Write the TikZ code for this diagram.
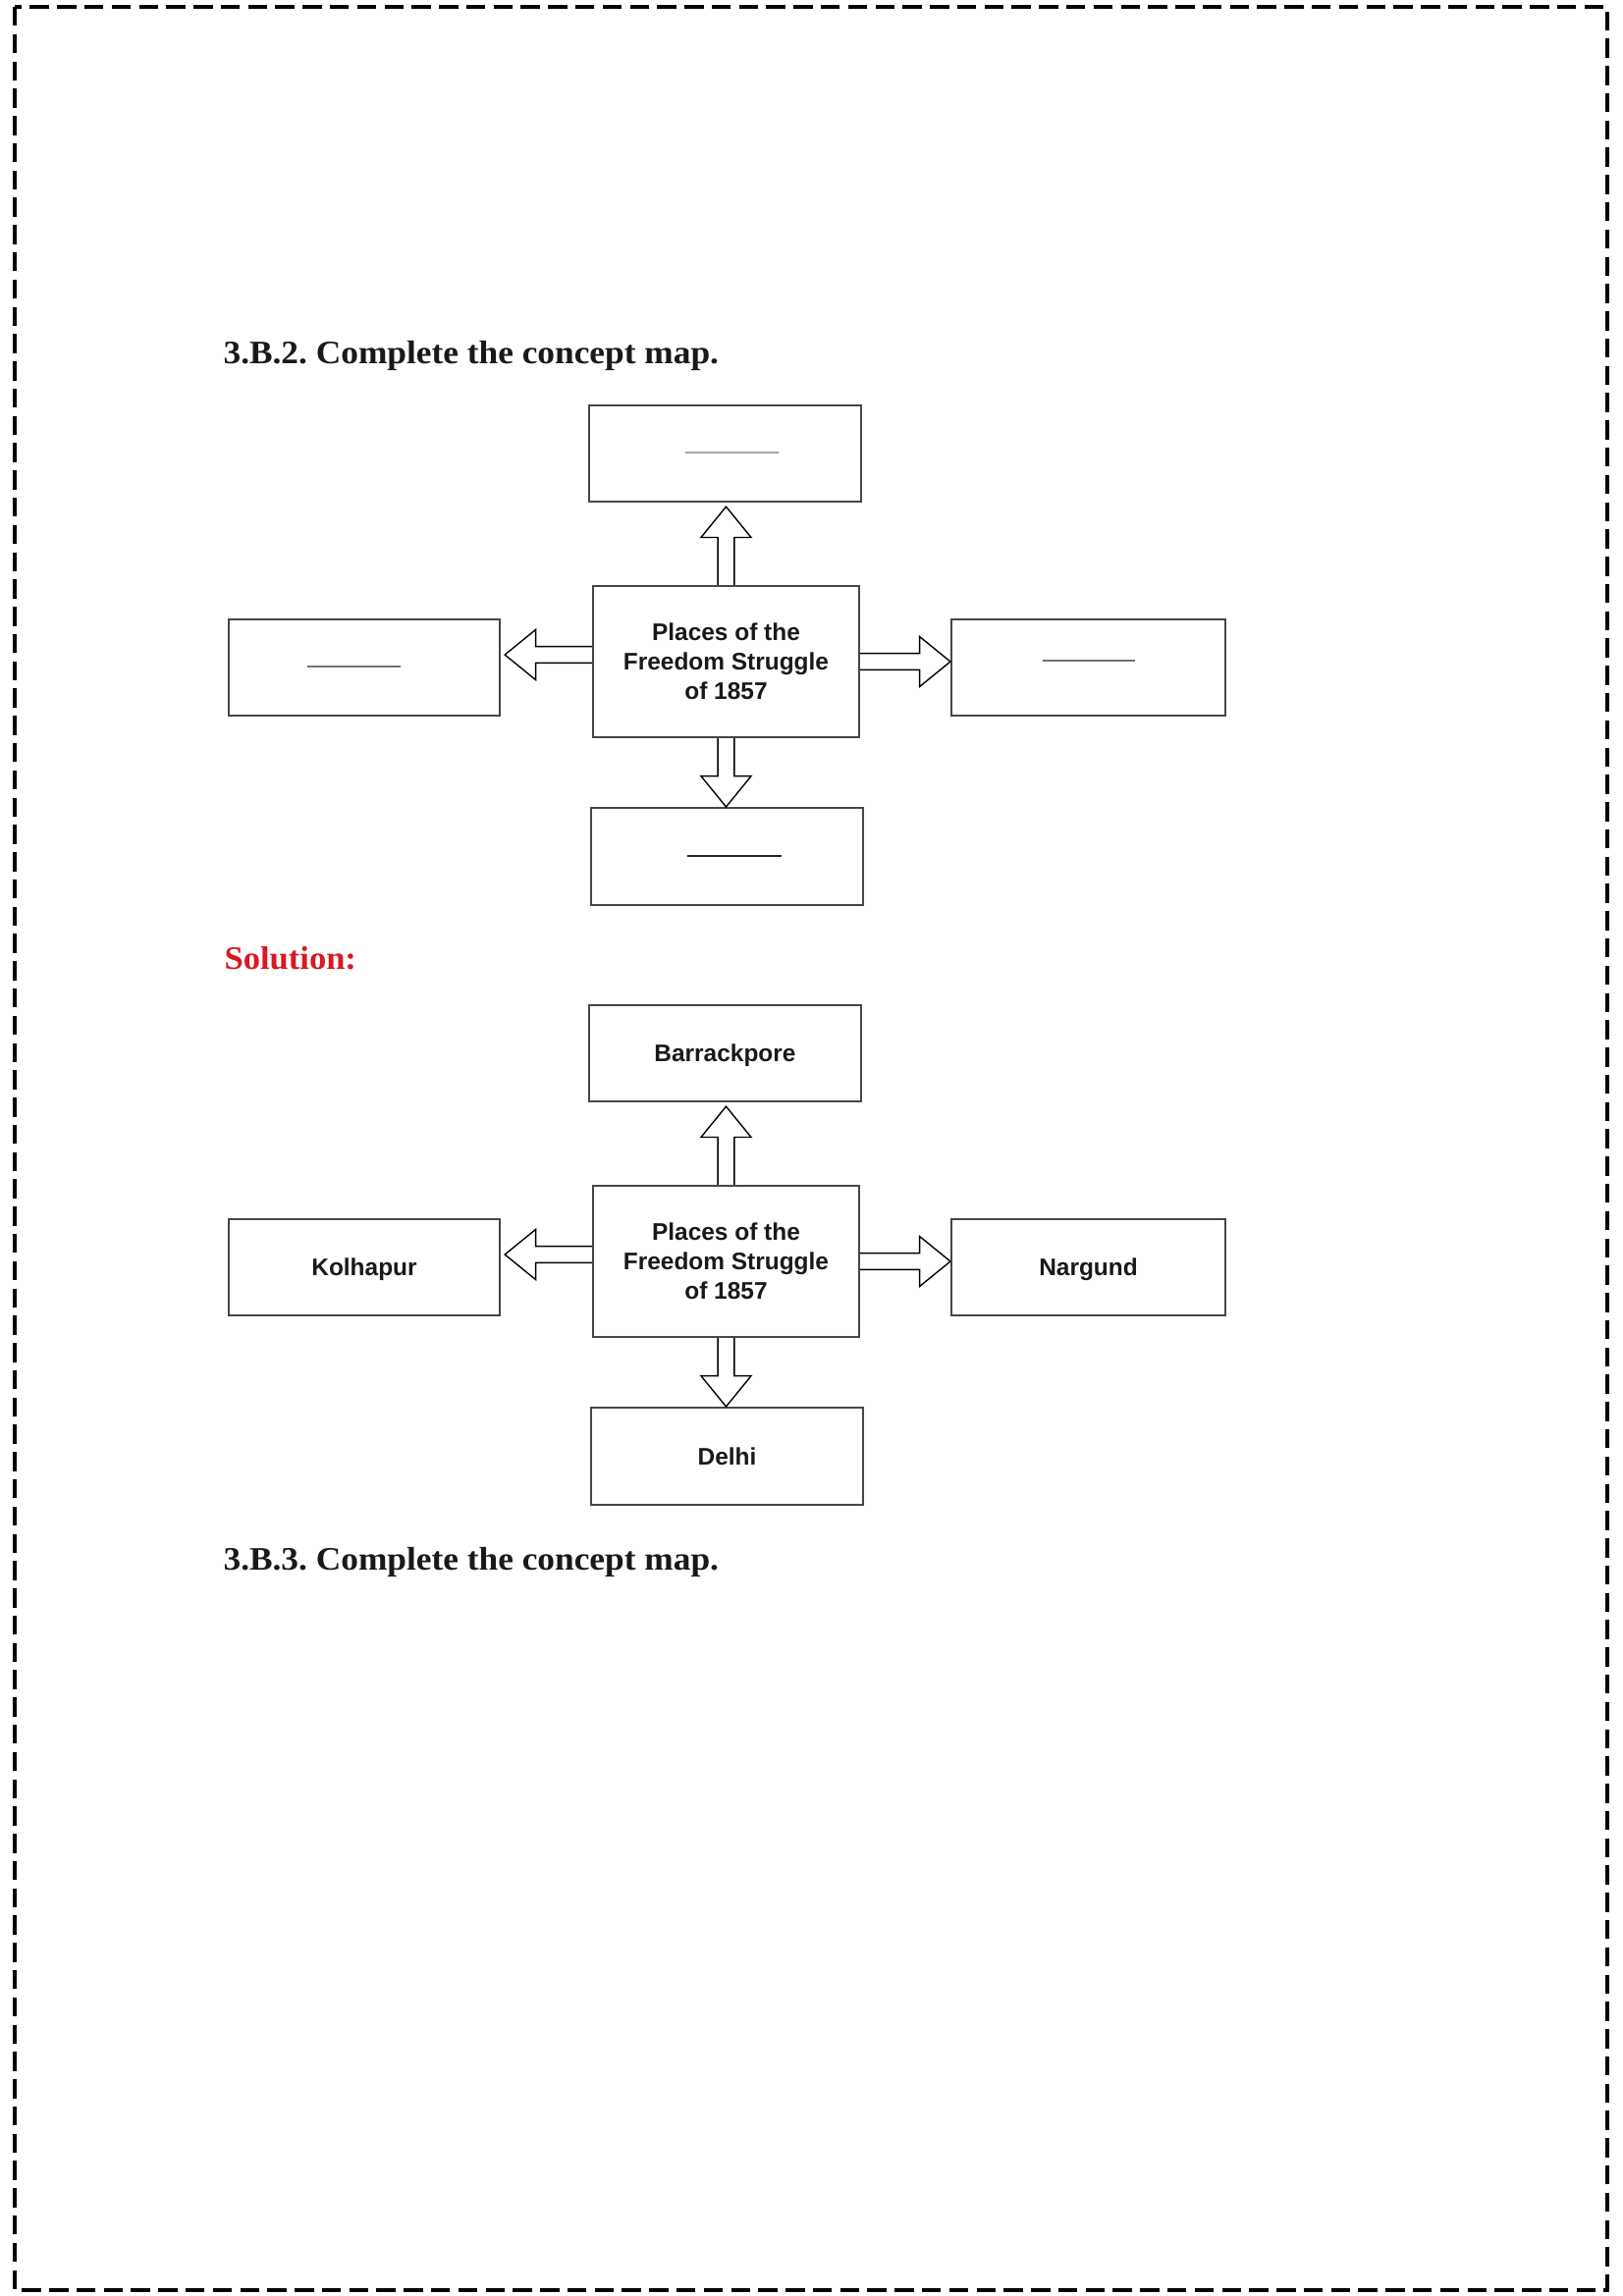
\documentclass[tikz,border=0pt]{standalone}
\usepackage{fontspec}
\setmainfont{Liberation Serif}
\newfontfamily\boxfont{Liberation Sans}
\usetikzlibrary{calc}
\frenchspacing
\definecolor{solred}{RGB}{215,25,35}
\definecolor{boxline}{RGB}{70,70,70}
\newcommand{\BAsw}{3pt}
\newcommand{\BAhw}{9.2pt}
\newcommand{\BAhl}{11.3pt}
\newcommand{\blockarrow}[2]{%
  \path #1 coordinate (ba-s) #2 coordinate (ba-e);
  \path ($(ba-e)!\BAhl!(ba-s)$) coordinate (ba-h);
  \draw[barrow] ($(ba-s)!\BAsw!90:(ba-e)$) -- ($(ba-h)!\BAsw!-90:(ba-s)$)
    -- ($(ba-h)!\BAhw!-90:(ba-s)$) -- (ba-e) -- ($(ba-h)!\BAhw!90:(ba-s)$)
    -- ($(ba-h)!\BAsw!90:(ba-s)$) -- ($(ba-s)!\BAsw!-90:(ba-e)$);
}
\tikzset{
  pbox/.style={draw=boxline, line width=0.8pt, fill=white, inner sep=0pt,
    minimum width=99.7pt, minimum height=35.3pt,
    font=\boxfont\bfseries\fontsize{8.8}{10.8}\selectfont, text=black!90,
    text height=0.716em, text depth=0.08em},
  cbox/.style={draw=boxline, line width=0.8pt, fill=white, inner sep=0pt,
    minimum width=97.6pt, minimum height=55.4pt, align=center,
    font=\boxfont\bfseries\fontsize{8.8}{10.8}\selectfont, text=black!90},
  barrow/.style={draw=black, line width=0.5pt, line join=miter},
  blankline/.style={line width=0.8pt},
  heading/.style={anchor=base west, inner sep=0pt, text=black!90,
    font=\bfseries\fontsize{12}{14}\selectfont, xscale=1.06},
  pageborder/.style={draw=black, line width=1.44pt, dash pattern=on 7pt off 3pt}
}
\begin{document}
\begin{tikzpicture}[x=0.36pt,y=-0.36pt]
  \fill[white] (0,0) rectangle (1653,2339);
  \useasboundingbox (0,0) rectangle (1653,2339);
  \draw[pageborder] (15,7) rectangle (1637,2333);

  % headings
  \node[heading] (h1) at (227,370) {3.B.2. Complete the concept map.};
  \node[heading, text=solred, xscale=0.978] (sol) at (228,987) {Solution:};
  \node[heading] (h2) at (227,1599) {3.B.3. Complete the concept map.};

  % ---------- diagram 1 ----------
  \node[cbox] (c1) at (739.5,674) {Places of the\\Freedom Struggle\\of 1857};
  \node[pbox] (t1) at (738.5,462) {};
  \node[pbox, minimum width=99.4pt] (l1) at (371,680) {};
  \node[pbox, minimum width=100.4pt] (r1) at (1108.5,680) {};
  \node[pbox, minimum height=35.6pt] (b1) at (740.5,872.5) {};

  \draw[blankline, draw=black!35] ($(t1)+(-40.5,-1)$) -- ($(t1)+(54.5,-1)$);
  \draw[blankline, draw=black!55] ($(l1)+(-58.3,-1)$) -- ($(l1)+(36.7,-1)$);
  \draw[blankline, draw=black!55] ($(r1)+(-46.8,-7.3)$) -- ($(r1)+(47.5,-7.3)$);
  \draw[blankline, draw=black!85] ($(b1)+(-40.5,-0.8)$) -- ($(b1)+(55.5,-0.8)$);

  \blockarrow{(c1.north)}{($(c1.north |- t1.south)+(0,4)$)}
  \blockarrow{($(c1.west)+(0,-7)$)}{($(l1.east |- c1.west)+(4,-7)$)}
  \blockarrow{(c1.east)}{(r1.west |- c1.east)}
  \blockarrow{(c1.south)}{(c1.south |- b1.north)}

  % ---------- diagram 2 ----------
  \node[cbox] (c2) at (739.5,1285) {Places of the\\Freedom Struggle\\of 1857};
  \node[pbox] (t2) at (738.5,1073) {Barrackpore};
  \node[pbox, minimum width=99.4pt] (l2) at (371,1291) {Kolhapur};
  \node[pbox, minimum width=100.4pt] (r2) at (1108.5,1291) {Nargund};
  \node[pbox, minimum height=35.6pt] (b2) at (740.5,1483.5) {Delhi};

  \blockarrow{(c2.north)}{($(c2.north |- t2.south)+(0,4)$)}
  \blockarrow{($(c2.west)+(0,-7)$)}{($(l2.east |- c2.west)+(4,-7)$)}
  \blockarrow{(c2.east)}{(r2.west |- c2.east)}
  \blockarrow{(c2.south)}{(c2.south |- b2.north)}
\end{tikzpicture}
\end{document}
